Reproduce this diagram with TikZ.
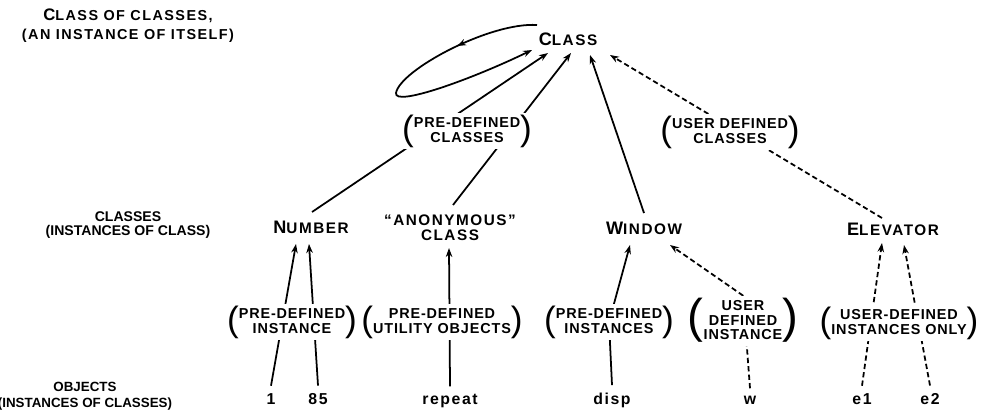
\documentclass[tikz,border=0pt]{standalone}
\usepackage{fontspec}
\setmainfont{Liberation Sans}
\newfontfamily\lblfont{Liberation Sans}[LetterSpace=10]
\newfontfamily\notefont{Liberation Sans}[LetterSpace=6]
\newfontfamily\rowfont{Liberation Sans}
\usetikzlibrary{arrows.meta,calc,backgrounds,decorations.markings}
\newcommand{\kap}[3][10.3]{{\fontsize{#1}{#1}\selectfont #2}#3}
\newcommand{\brk}[3]{\raisebox{#2}{\rowfont\mdseries\fontsize{#1}{#1}\selectfont #3}}
\newcommand{\pnote}[2][20]{\brk{#1}{-0.135\dimexpr #1pt\relax}{(}%
  \begin{tabular}{@{}c@{}}#2\end{tabular}\brk{#1}{-0.135\dimexpr #1pt\relax}{)}}
\tikzset{
  isa/.style={-{Stealth[length=1.8mm, width=1.3mm]}, line width=1pt},
  userisa/.style={isa, dash pattern=on 3pt off 1.8pt},
  selfloop/.style={isa, postaction={decorate, decoration={markings,
      mark=at position 0.27 with {\arrow{Stealth[length=1.8mm, width=1.3mm]}}}}},
  cname/.style={font=\lblfont\bfseries\fontsize{8.7}{8.5}\selectfont, inner sep=2pt, align=center},
  note/.style={font=\notefont\bfseries\fontsize{8.2}{8.4}\selectfont, fill=white, inner sep=1pt},
  rowlab/.style={font=\rowfont\bfseries\fontsize{7.6}{9}\selectfont, align=center},
  toplab/.style={font=\lblfont\bfseries\fontsize{8.2}{10.8}\selectfont, align=center},
  obj/.style={font=\lblfont\bfseries\fontsize{9}{10}\selectfont, anchor=base, inner sep=4pt},
}

\begin{document}
\begin{tikzpicture}
  \useasboundingbox (0,0) rectangle (19.64,-8.2);
  % level captions
  \node[toplab] (ttl) at (2.56,-0.51) {\kap[9.5]{C}{LASS OF CLASSES,}\\(AN INSTANCE OF ITSELF)};
  \node[rowlab, font=\rowfont\bfseries\fontsize{8}{8}\selectfont] (rowcls) at (2.56,-4.5)
    {CLASSES\\(INSTANCES OF CLASS)};
  \node[rowlab] (rowobj) at (1.7,-7.93) {OBJECTS\\(INSTANCES OF CLASSES)};
  % classes
  \node[cname] (cls) at (11.36,-0.78) {\kap{C}{LASS}};
  \node[cname] (number) at (6.22,-4.54) {\kap{N}{UMBER}};
  \node[cname] (anon) at (9.0,-4.56) {“ANONYMOUS”\\CLASS};
  \node[cname] (window) at (12.88,-4.56) {\kap{W}{INDOW}};
  \node[cname] (elevator) at (17.86,-4.58) {\kap{E}{LEVATOR}};
  % bracketed remarks
  \node[note] (pdc) at (9.34,-2.62) {\pnote{PRE-DEFINED\\CLASSES}};
  \node[note] (udc) at (14.6,-2.64) {\pnote{USER DEFINED\\CLASSES}};
  \node[note] (pdi) at (5.84,-6.44) {\pnote{PRE-DEFINED\\INSTANCE}};
  \node[note] (puo) at (8.84,-6.44) {\pnote{PRE-DEFINED\\UTILITY OBJECTS}};
  \node[note] (pdis) at (12.18,-6.44) {\pnote{PRE-DEFINED\\INSTANCES}};
  \node[note] (udi) at (14.86,-6.42) {\pnote[27]{USER\\DEFINED\\INSTANCE}};
  \node[note] (udio) at (17.98,-6.46) {\pnote{USER-DEFINED\\INSTANCES ONLY}};
  % objects
  \node[obj] (one) at (5.42,-8.08) {1};
  \node[obj] (n85) at (6.36,-8.08) {85};
  \node[obj] (rep) at (9.0,-8.08) {repeat};
  \node[obj] (disp) at (12.24,-8.08) {disp};
  \node[obj] (w) at (15.0,-8.08) {w};
  \node[obj] (e1) at (17.24,-8.08) {e1};
  \node[obj] (e2) at (18.6,-8.08) {e2};

  \begin{scope}[on background layer]
    \draw[isa] ($(number)+(0.02,0.30)$) -- ($(cls)+(-0.40,-0.28)$);
    \draw[isa] ($(anon)+(0.06,0.46)$) -- ($(cls)+(0.06,-0.28)$);
    \draw[isa] ($(window)+(0,0.30)$) -- ($(cls)+(0.44,-0.32)$);
    \draw[userisa] ($(elevator)+(-0.22,0.22)$) -- ($(cls)+(0.84,-0.32)$);
    \draw[selfloop] ($(cls)+(-0.62,0.28)$) .. controls (9.8,-0.44) and (8.0,-1.40) .. (7.92,-1.86)
      .. controls (7.88,-2.14) and (9.4,-1.6) .. ($(cls)+(-0.72,-0.22)$);
    \draw[isa] (one.north) -- ($(number)+(-0.30,-0.34)$);
    \draw[isa] (n85.north) -- ($(number)+(-0.04,-0.34)$);
    \draw[isa] (rep.north) -- ($(anon)+(-0.02,-0.40)$);
    \draw[isa] (disp.north) -- (pdis.center) -- ($(window)+(-0.28,-0.34)$);
    \draw[userisa] (w.north) -- (udi.north) -- ($(window)+(0.52,-0.34)$);
    \draw[userisa] (e1.north) -- ($(elevator)+(-0.22,-0.28)$);
    \draw[userisa] (e2.north) -- ($(elevator)+(0.22,-0.32)$);
  \end{scope}
\end{tikzpicture}
\end{document}
